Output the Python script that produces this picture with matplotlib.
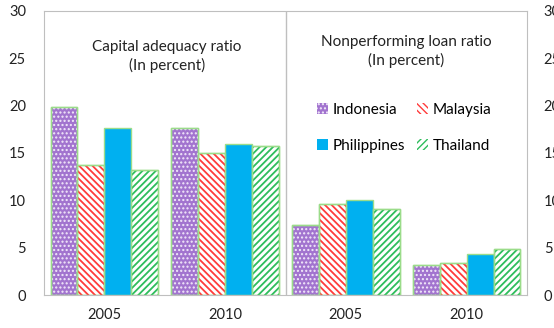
import numpy as np
import matplotlib.pyplot as plt
from matplotlib.patches import Patch

plt.rcParams['font.family'] = ['Lato', 'DejaVu Sans']

years = ['2005', '2010']
countries = ['Indonesia', 'Malaysia', 'Philippines', 'Thailand']

# capital adequacy ratio, percent
car = {
    'Indonesia': [19.9, 17.6],
    'Malaysia': [13.7, 15.0],
    'Philippines': [17.6, 16.0],
    'Thailand': [13.2, 15.7],
}
# nonperforming loan ratio, percent
npl = {
    'Indonesia': [7.4, 3.2],
    'Malaysia': [9.6, 3.4],
    'Philippines': [10.0, 4.3],
    'Thailand': [9.1, 4.9],
}

# face colour, hatch pattern, hatch colour, hatch line width
styles = {
    'Indonesia': ('#A274CF', '....', '#F2EAFA', 1.0),
    'Malaysia': ('white', '\\\\\\\\\\', '#FF3B3B', 1.3),
    'Philippines': ('#00B0F0', None, None, 1.0),
    'Thailand': ('white', '/////', '#2EBD5C', 1.3),
}
edge = '#9BDC8A'

fig = plt.figure(figsize=(5.54, 3.28), dpi=100)
ax = fig.add_axes([0.0794, 0.1006, 0.8719, 0.8659])

width = 0.2225
centers = np.array([0.5, 1.5, 2.5, 3.5])
for i, c in enumerate(countries):
    vals = car[c] + npl[c]
    x = centers + (i - 1.5) * width
    face, hatch, hcol, hlw = styles[c]
    ax.bar(x, vals, width, color=face, edgecolor=edge, linewidth=1.0, zorder=2)
    if hatch:
        with plt.rc_context({'hatch.linewidth': hlw}):
            ax.bar(x, vals, width, color='none', edgecolor=hcol, hatch=hatch,
                   linewidth=0, zorder=3)
        ax.bar(x, vals, width, color='none', edgecolor=edge, linewidth=1.0, zorder=4)

ax.set_xlim(0, 4)
ax.set_ylim(0, 30)
ax.set_yticks(range(0, 31, 5))
ax.set_xticks(centers)
ax.set_xticklabels(years * 2)
ax.axvline(2, color='#BFBFBF', lw=1.0)
for s in ax.spines.values():
    s.set_color('#BFBFBF')
ax.tick_params(length=0, labelsize=10.5, colors='#222222')
ax.tick_params(axis='y', pad=13)
ax.tick_params(axis='x', pad=9)

ax2 = ax.twinx()
ax2.set_ylim(0, 30)
ax2.set_yticks(range(0, 31, 5))
ax2.tick_params(length=0, labelsize=10.5, colors='#222222', pad=12)
for s in ax2.spines.values():
    s.set_visible(False)

ax.text(1.02, 25.2, 'Capital adequacy ratio\n(In percent)', ha='center', va='center',
        fontsize=11, color='#222222', linespacing=1.35)
ax.text(3.0, 25.7, 'Nonperforming loan ratio\n(In percent)', ha='center', va='center',
        fontsize=11, color='#222222', linespacing=1.35)

# legend fills column by column, so order handles to read across rows
order = ['Indonesia', 'Philippines', 'Malaysia', 'Thailand']
handles = []
for c in order:
    face, hatch, hcol, hlw = styles[c]
    with plt.rc_context({'hatch.linewidth': hlw}):
        handles.append(Patch(facecolor=face, edgecolor=hcol if hatch else face,
                             hatch=hatch, linewidth=0))
leg = ax.legend(handles, order, ncol=2, frameon=False, loc='center',
                bbox_to_anchor=(0.746, 0.588), fontsize=11, handlelength=0.7,
                handleheight=0.7, handletextpad=0.3, columnspacing=0.8,
                labelspacing=1.45)

fig.savefig('out.png', dpi=100)
